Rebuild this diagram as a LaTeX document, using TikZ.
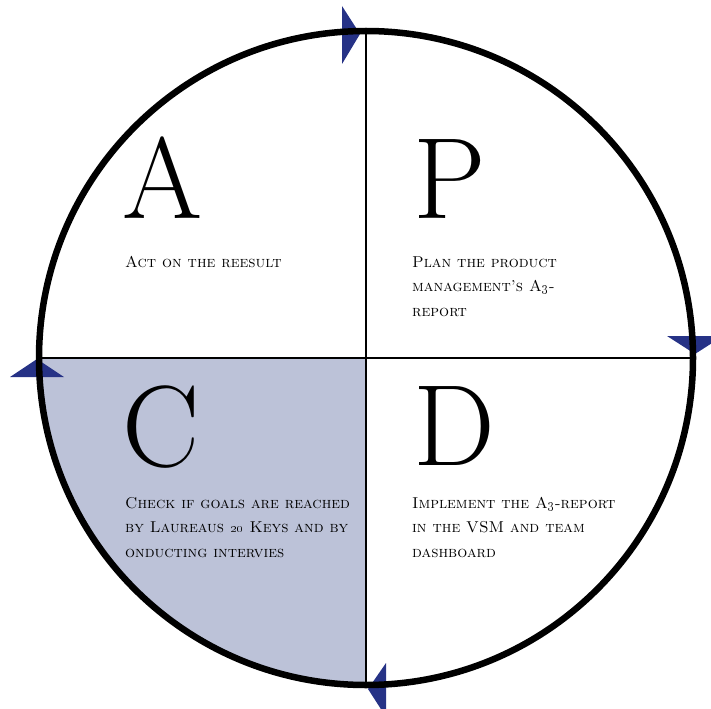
\documentclass[tikz,border=0pt]{standalone}
\definecolor{cyclenavy}{RGB}{38,50,134}
\definecolor{checkfill}{RGB}{188,194,216}
\tikzset{
  bigletter/.style={font=\fontsize{116}{116}\selectfont, anchor=base west, inner sep=0pt},
  steptext/.style={font=\fontsize{15.8}{24.5}\selectfont\scshape, align=left, anchor=base west, inner sep=0pt},
  divider/.style={line width=1.3bp, black},
  rim/.style={line width=6.5bp, black},
  flowtip/.style={fill=cyclenavy, draw=none}
}
\begin{document}
\begin{tikzpicture}[x=1bp,y=-1bp]
\useasboundingbox (0,0) rectangle (711,709);
% centre and quadrant points of the cycle
\coordinate (O) at (366,358);
\coordinate (N) at (366,31);
\coordinate (S) at (366,685);
\coordinate (W) at (39,358);
\coordinate (E) at (693,358);
% shaded "Check" quadrant
\fill[checkfill] (O) -- (W) arc[start angle=180, end angle=90, radius=327] -- cycle;
% direction markers on the rim
\fill[flowtip] (360,34) -- (342,6) -- (342,64) -- cycle;
\fill[flowtip] (695,354) -- (667,336) -- (723,336) -- cycle;
\fill[flowtip] (368,689) -- (386,663) -- (386,717) -- cycle;
\fill[flowtip] (37,359) -- (10,377) -- (64,377) -- cycle;
% quadrant dividers
\draw[divider] (N) -- (S);
\draw[divider] (W) -- (E);
% outer rim
\draw[rim] (O) circle[radius=327];
% phase letters
\node[bigletter] (aL) at (122,218) {A};
\node[bigletter] (pL) at (413,218) {P};
\node[bigletter] (cL) at (122,466) {C};
\node[bigletter] (dL) at (413,465) {D};
% phase descriptions (anchored at the baseline of their last line)
\node[steptext] (aT) at (125,267) {Act on the reesult};
\node[steptext] (pT) at (412,316) {Plan the product\\management's A\oldstylenums{3}-\\report};
\node[steptext] (cT) at (125,557) {Check if goals are reached\\by Laureaus \oldstylenums{20} Keys and by\\onducting intervies};
\node[steptext] (dT) at (412,557) {Implement the A\oldstylenums{3}-report\\in the VSM and team\\dashboard};
\end{tikzpicture}
\end{document}
